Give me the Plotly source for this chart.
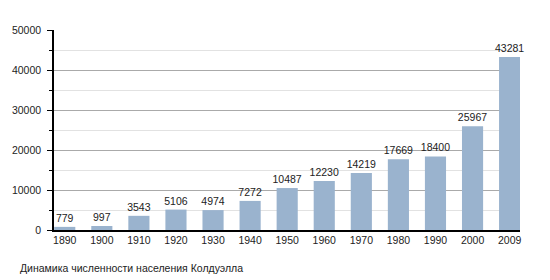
import plotly.graph_objects as go

years = ["1890", "1900", "1910", "1920", "1930", "1940", "1950", "1960",
         "1970", "1980", "1990", "2000", "2009"]
population = [779, 997, 3543, 5106, 4974, 7272, 10487, 12230,
              14219, 17669, 18400, 25967, 43281]
y_ticks = [0, 10000, 20000, 30000, 40000, 50000]
y_tick_labels = ["0", "10000", "20000", "30000", "40000", "50000"]
caption = "Динамика численности населения Колдуэлла"

FONT = "Liberation Sans, Arial, sans-serif"
FS = 10.5

fig = go.Figure(go.Bar(
    x=list(range(len(years))),
    y=population,
    text=[str(v) for v in population],
    textposition="outside",
    textangle=0,
    constraintext="none",
    textfont=dict(family=FONT, size=FS, color="#222222"),
    cliponaxis=False,
    marker=dict(color="#9AB3CE", line=dict(width=0)),
    width=0.57,
))

fig.update_layout(
    width=550, height=280,
    margin=dict(l=50, r=30, t=30, b=50),
    paper_bgcolor="white", plot_bgcolor="white",
    showlegend=False,
    uniformtext=dict(minsize=FS, mode="show"),
    font=dict(family=FONT, size=FS, color="#222222"),
    title=dict(text=caption, xref="container", yref="container",
               x=20/550, y=(280-268)/280, xanchor="left", yanchor="middle",
               font=dict(family=FONT, size=FS, color="#222222")),
    xaxis=dict(
        tickmode="array", tickvals=list(range(len(years))), ticktext=years,
        range=[-0.29, 12.28],
        showline=True, linecolor="#000000", linewidth=1.5,
        ticks="", showgrid=False, zeroline=False,
        tickfont=dict(family=FONT, size=FS, color="#222222"),
    ),
    yaxis=dict(
        range=[0, 50000], tickmode="array", tickvals=y_ticks,
        ticktext=y_tick_labels,
        showline=True, linecolor="#000000", linewidth=1.5,
        ticks="outside", ticklen=5, tickcolor="#000000", tickwidth=1,
        showgrid=True, gridcolor="#aaaaaa", gridwidth=1,
        zeroline=False,
        ticklabelstandoff=4,
        minor=dict(dtick=5000, tick0=0, ticks="outside", ticklen=3,
                   tickcolor="#000000", showgrid=True, gridcolor="#e2e2e2"),
        tickfont=dict(family=FONT, size=FS, color="#222222"),
    ),
)

fig.write_html("out.html")
